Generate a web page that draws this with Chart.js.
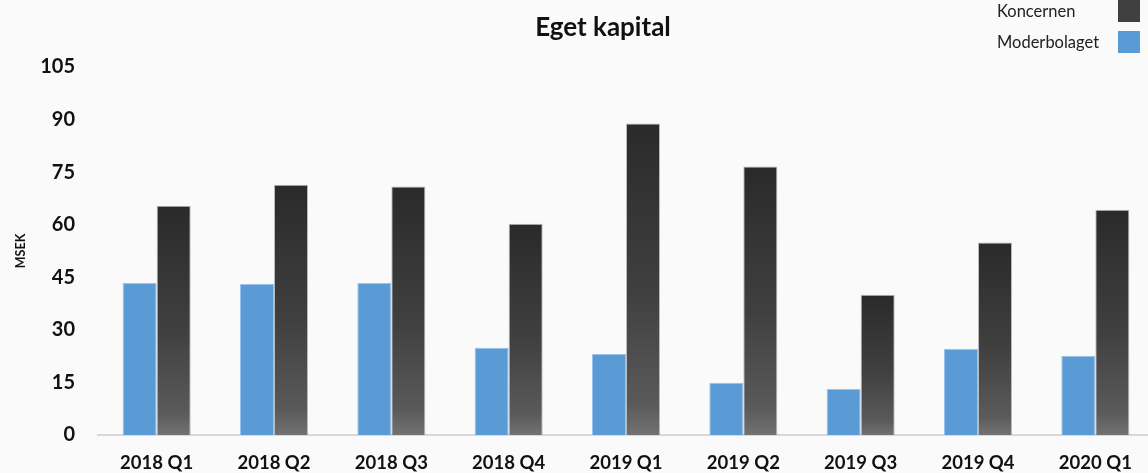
<!DOCTYPE html>
<html>
<head>
<meta charset="utf-8">
<script src="https://cdn.jsdelivr.net/npm/chart.js@4"></script>
<style>
    html, body { margin: 0; padding: 0; background: #fafafa; overflow: hidden; }
    body { width: 1148px; height: 473px; position: relative; font-family: "Lato", sans-serif; }
    .wrap { position: absolute; left: 0; top: 0; width: 1154px; height: 473px; }
    .title { position: absolute; left: 0; width: 1206px; top: 10px; text-align: center; font-size: 26px; font-weight: 700; color: #111; }
    .legend { position: absolute; left: 990px; top: -5px; font-size: 16.5px; color: #222; }
    .legend div { height: 31px; display: flex; align-items: center; }
    .legend span.txt { width: 121px; padding-left: 7px; }
    .legend span.box { width: 22px; height: 22px; display: inline-block; }
</style>
</head>
<body>
<div class="wrap"><canvas id="chart"></canvas></div>
<div class="title">Eget kapital</div>
<div class="legend">
    <div><span class="txt">Koncernen</span><span class="box" style="background:#404040"></span></div>
    <div><span class="txt">Moderbolaget</span><span class="box" style="background:#5b9bd5"></span></div>
</div>
<script>
const kvartal = ["2018 Q1", "2018 Q2", "2018 Q3", "2018 Q4", "2019 Q1", "2019 Q2", "2019 Q3", "2019 Q4", "2020 Q1"];
const moderbolaget = [43.4, 43.1, 43.4, 24.9, 23.1, 14.9, 13.1, 24.6, 22.6];
const koncernen = [65.4, 71.4, 70.9, 60.3, 88.9, 76.6, 40.0, 54.9, 64.3];
const yMax = 105;
const yStep = 15;

// gradient per stapel, mörk upptill och ljusare nedtill
function darkGradient(ctx) {
    const chart = ctx.chart;
    if (!chart.chartArea || !chart.scales.y) return "#3a3a3a";
    const y = chart.scales.y;
    const top = y.getPixelForValue(ctx.raw);
    const bottom = y.getPixelForValue(0);
    const g = chart.ctx.createLinearGradient(0, top, 0, bottom);
    g.addColorStop(0, "#2a2a2a");
    g.addColorStop(0.55, "#404040");
    g.addColorStop(0.9, "#5a5a5a");
    g.addColorStop(1, "#727272");
    return g;
}

const canvas = document.getElementById("chart");
canvas.width = 1154;
canvas.height = 473;

new Chart(canvas, {
    type: "bar",
    data: {
        labels: kvartal,
        datasets: [
            {
                label: "Moderbolaget",
                data: moderbolaget,
                backgroundColor: "#5b9bd5",
                borderColor: "#9cc3ea",
                borderWidth: 1,
                categoryPercentage: 0.58,
                barPercentage: 1.0
            },
            {
                label: "Koncernen",
                data: koncernen,
                backgroundColor: darkGradient,
                borderColor: "rgba(170,170,170,0.8)",
                borderWidth: 1,
                categoryPercentage: 0.58,
                barPercentage: 1.0
            }
        ]
    },
    options: {
        responsive: false,
        animation: false,
        layout: { padding: { top: 67, right: 0, bottom: 0, left: 0 } },
        plugins: {
            legend: { display: false },
            title: { display: false },
            tooltip: { enabled: false }
        },
        scales: {
            x: {
                grid: { display: false, drawTicks: false },
                border: { display: true, color: "#d9d9d9", width: 2 },
                ticks: {
                    color: "#111",
                    padding: 17,
                    maxRotation: 0,
                    font: { family: "Lato", size: 18.5, weight: "bold" }
                },
                afterFit: s => { s.height = 38; }
            },
            y: {
                min: 0,
                max: yMax,
                grid: { display: false, drawTicks: false },
                border: { display: false },
                ticks: {
                    stepSize: yStep,
                    color: "#111",
                    padding: 23,
                    font: { family: "Lato", size: 20, weight: "bold" }
                },
                title: {
                    display: true,
                    text: "MSEK",
                    color: "#111",
                    padding: { top: 13, bottom: 0 },
                    font: { family: "Lato", size: 12.5, weight: "bold" }
                },
                afterFit: s => { s.width = 98; }
            }
        }
    }
});
</script>
</body>
</html>
